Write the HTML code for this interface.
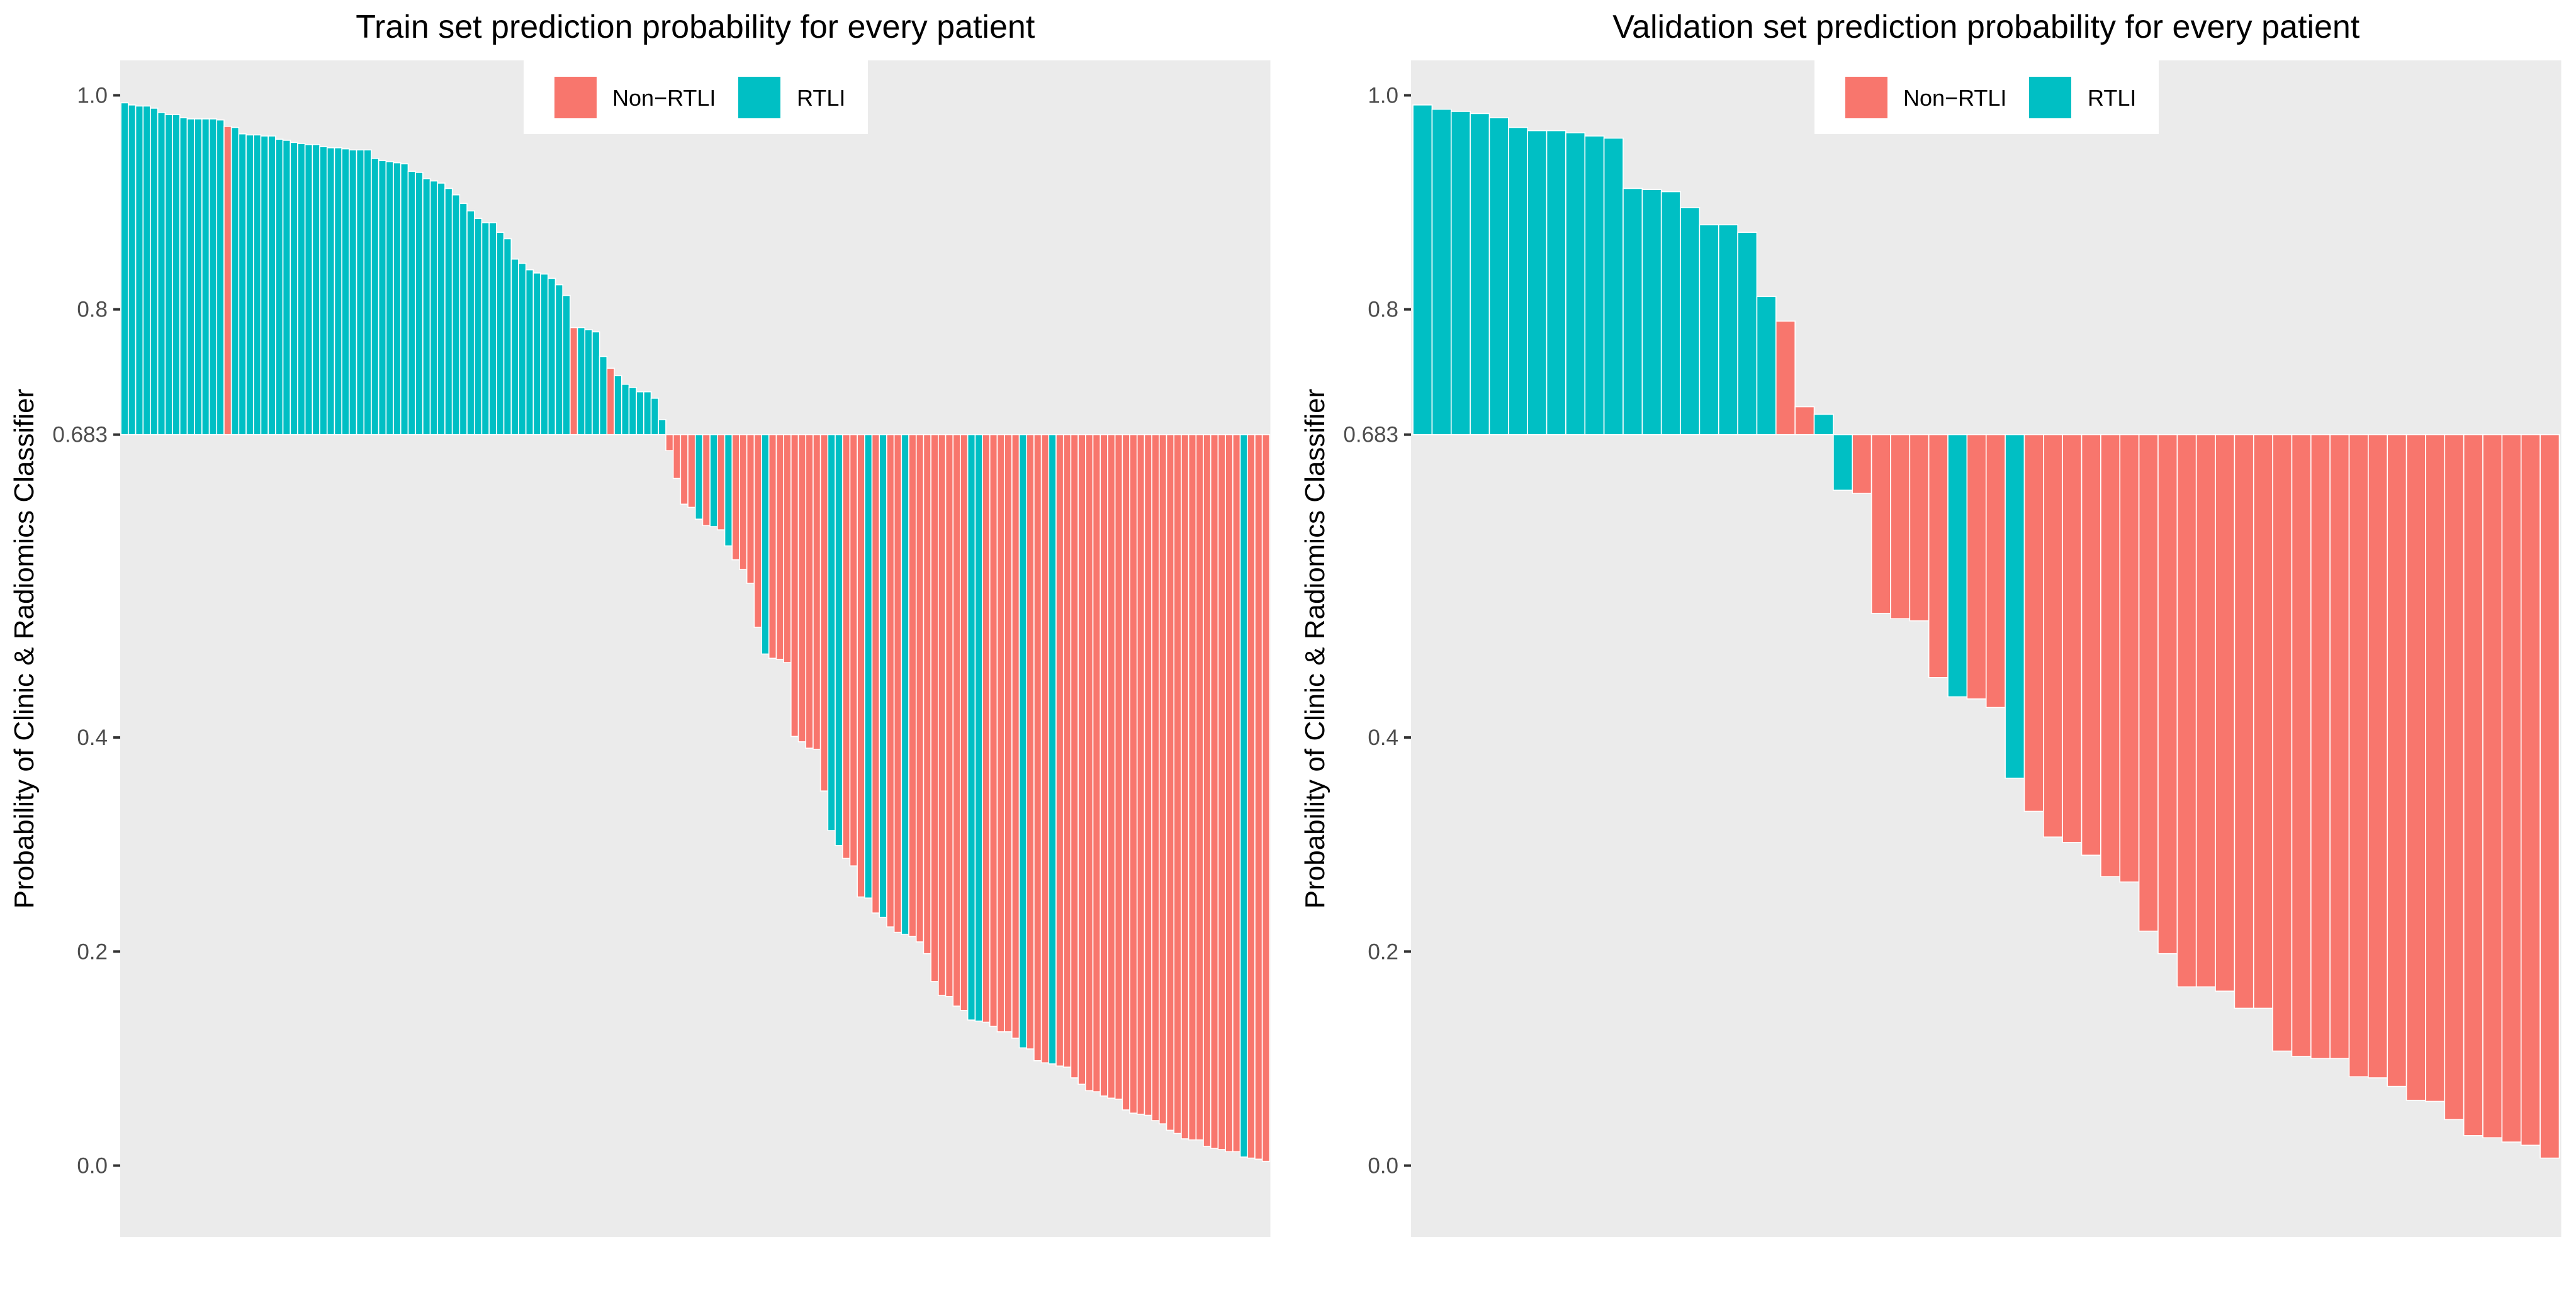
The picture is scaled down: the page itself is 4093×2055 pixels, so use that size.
<!DOCTYPE html>
<html>
<head>
<meta charset="utf-8">
<style>
html,body{margin:0;padding:0;background:#fff;}
svg{display:block;font-family:"Liberation Sans",Arial,sans-serif;}
</style>
</head>
<body>
<svg id="chart" width="4093" height="2055" viewBox="0 0 4093 2055" xmlns="http://www.w3.org/2000/svg">
  <rect x="0" y="0" width="4093" height="2055" fill="#ffffff"/>
  <g id="train-panel"></g>
  <g id="valid-panel"></g>
</svg>
<script>
// ---- data ----
const trainValues = [
  0.993,0.991,0.990,0.990,0.988,0.984,0.982,0.982,0.979,0.978,
  0.978,0.978,0.978,0.977,0.971,0.970,0.964,0.963,0.963,0.962,
  0.962,0.959,0.958,0.956,0.955,0.954,0.954,0.952,0.951,0.951,
  0.950,0.949,0.949,0.949,0.941,0.939,0.938,0.937,0.936,0.929,
  0.928,0.922,0.920,0.918,0.913,0.907,0.899,0.892,0.885,0.881,
  0.881,0.872,0.866,0.847,0.843,0.837,0.834,0.833,0.829,0.823,
  0.813,0.783,0.783,0.781,0.779,0.756,0.745,0.738,0.730,0.727,
  0.723,0.723,0.717,0.697,
  0.668,0.642,0.618,0.615,0.604,0.598,0.597,0.594,0.579,0.566,
  0.557,0.544,0.503,0.478,0.474,0.473,0.470,0.401,0.396,0.390,
  0.389,0.350,0.313,0.299,0.287,0.280,0.251,0.250,0.236,0.232,
  0.223,0.218,0.216,0.214,0.209,0.198,0.172,0.159,0.158,0.149,
  0.145,0.136,0.135,0.134,0.130,0.125,0.125,0.119,0.110,0.109,
  0.098,0.096,0.095,
  0.093,0.092,0.082,0.076,0.070,0.069,0.065,0.063,0.062,0.052,
  0.049,0.048,0.047,0.042,0.039,0.033,0.030,0.025,0.024,0.024,
  0.018,0.016,0.015,0.013,0.013,
  0.008,0.007,0.006,0.004
];
const trainGroups = (
  "TTTTTTTTTTTTTT" + "R" + "TTTTTTTTTTTTTTTTTTTTTTTTTTTTTTTTTTTTTTTTTTTTTT" + "R" + "TTTT" + "R" + "TTTTTTT" +
  "RRRR" + "T" + "R" + "T" + "R" + "T" + "RRRR" + "T" + "RRRRRRRR" + "TT" + "RRR" + "T" + "R" + "T" + "RR" + "T" +
  "RRRRRRRR" + "TT" + "RRRRR" + "T" + "RRR" + "T" + "RRRRRRRRRRRRRRRRRRRRRRRRR" + "T" + "RRR"
).split("");

const validValues = [
  0.991,0.987,0.985,0.983,0.979,0.970,0.967,0.967,0.965,0.962,
  0.960,0.913,0.912,0.910,0.895,0.879,0.879,0.872,0.812,
  0.789,0.709,0.702,0.631,0.628,0.516,0.511,0.509,0.456,0.438,0.436,0.428,0.362,
  0.331,0.307,0.302,0.290,0.270,0.265,0.219,0.198,0.167,0.167,
  0.163,0.147,0.147,0.107,0.102,0.100,0.100,0.083,0.082,0.074,
  0.061,0.060,0.043,0.028,0.026,0.022,0.019,0.007
];
const validGroups = (
  "TTTTTTTTTTTTTTTTTTT" + "RR" + "TT" + "RRRRR" + "T" + "RR" + "T" + "RRRRRRRRRRRRRRRRRRRRRRRRRRRR"
).split("");

const tickValues = [0.0, 0.2, 0.4, 0.683, 0.8, 1.0];
const tickLabels = ["0.0", "0.2", "0.4", "0.683", "0.8", "1.0"];
const legendLabels = ["Non\u2212RTLI", "RTLI"];
const threshold = 0.683;

// ---- layout ----
const NS = "http://www.w3.org/2000/svg";
const colors = { R: "#F8766D", T: "#00BFC4" };
const panelTop = 96, panelBottom = 1966, panelW = 1827.5;
function yScale(v) { return 1852.5 - 1701 * v; }

function mk(tag, attrs, parent) {
  const el = document.createElementNS(NS, tag);
  for (const k in attrs) el.setAttribute(k, attrs[k]);
  parent.appendChild(el);
  return el;
}

function drawPanel(g, left, values, groups, title, prefix) {
  const bg = mk("rect", { x: left, y: panelTop, width: panelW, height: panelBottom - panelTop, fill: "#EBEBEB" }, g);
  
  

  const n = values.length;
  const unit = panelW / (n + 0.2);
  function xScale(i) { return left + (i + 0.1) * unit; }
  const base = yScale(threshold);
  const barsG = mk("g", {}, g);
  
  
  for (let i = 0; i < n; i++) {
    const yv = yScale(values[i]);
    const top = Math.min(yv, base), h = Math.abs(yv - base);
    const r = mk("rect", {
      x: xScale(i), y: top, width: unit, height: Math.max(h, 0.5),
      fill: colors[groups[i]], stroke: "#ffffff", "stroke-width": 1.6
    }, barsG);
    
    
  }

  // y ticks
  for (let k = 0; k < tickValues.length; k++) {
    const ty = yScale(tickValues[k]);
    const tm = mk("line", { x1: left - 11, x2: left, y1: ty, y2: ty, stroke: "#333333", "stroke-width": 4 }, g);
    
    
    const tl = mk("text", { x: left - 20, y: ty + 12, "text-anchor": "end", "font-size": 35, fill: "#4D4D4D" }, g);
    tl.textContent = tickLabels[k];
    
    
  }

  // title
  const tt = mk("text", { x: left + panelW / 2, y: 60, "text-anchor": "middle", "font-size": 52, fill: "#000000" }, g);
  tt.textContent = title;
  
  

  // y-axis title
  const cx = left - 138, cy = (panelTop + panelBottom) / 2;
  const yt = mk("text", { x: cx, y: cy, "text-anchor": "middle", "font-size": 44, fill: "#000000", transform: "rotate(-90 " + cx + " " + cy + ")" }, g);
  yt.textContent = "Probability of Clinic & Radiomics Classifier";
  
  

  // legend
  const lg = mk("g", {}, g);
  
  
  const lb = mk("rect", { x: left + 641, y: panelTop, width: 547, height: 117, fill: "#ffffff" }, lg);
  
  
  const keyX = [left + 690, left + 982], txtX = [left + 782, left + 1075], keyCol = [colors.R, colors.T];
  for (let k = 0; k < 2; k++) {
    const ke = mk("rect", { x: keyX[k], y: 122, width: 67, height: 66, fill: keyCol[k] }, lg);
    
    
    const lt = mk("text", { x: txtX[k], y: 168, "font-size": 36, fill: "#000000" }, lg);
    lt.textContent = legendLabels[k];
    
    
  }
}

drawPanel(document.getElementById("train-panel"), 191, trainValues, trainGroups,
  "Train set prediction probability for every patient", "train");
drawPanel(document.getElementById("valid-panel"), 2242, validValues, validGroups,
  "Validation set prediction probability for every patient", "validation");
</script>
</body>
</html>
